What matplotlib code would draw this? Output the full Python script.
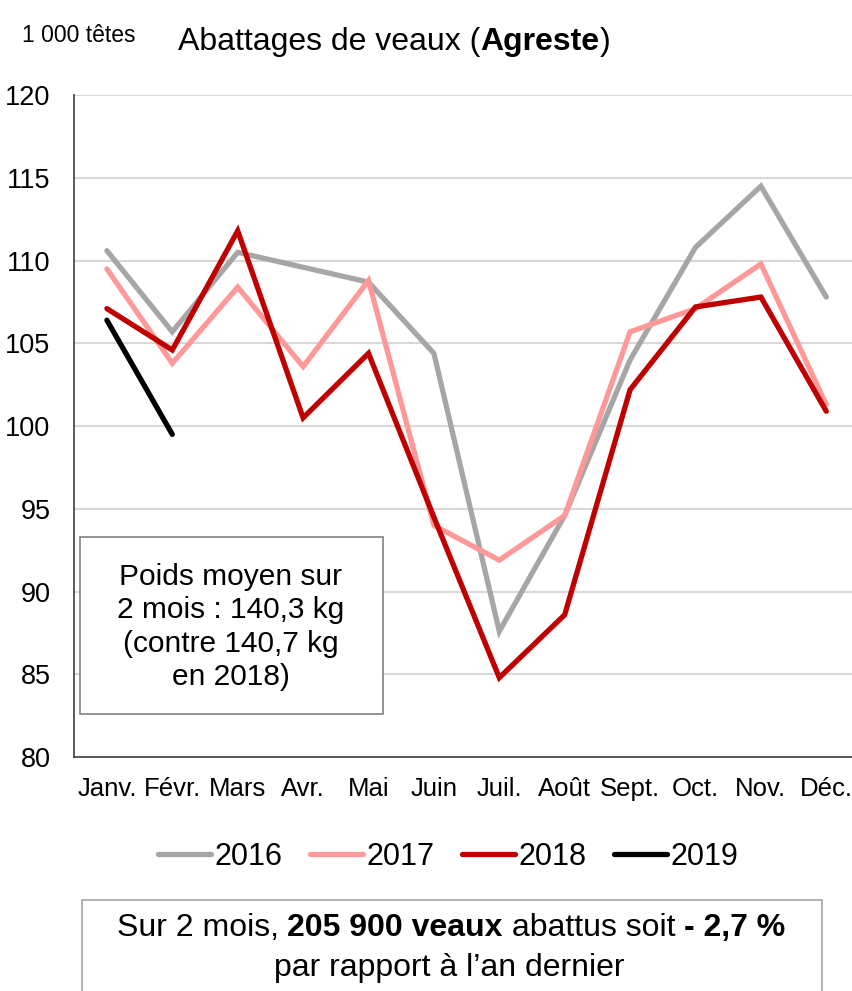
import matplotlib.pyplot as plt
import numpy as np

plt.rcParams['font.family'] = ['Liberation Sans', 'DejaVu Sans']

mois = ['Janv.', 'Févr.', 'Mars', 'Avr.', 'Mai', 'Juin', 'Juil.', 'Août',
        'Sept.', 'Oct.', 'Nov.', 'Déc.']
v2016 = [110.6, 105.7, 110.5, 109.6, 108.7, 104.4, 87.6, 94.6, 104.0, 110.8, 114.5, 107.8]
v2017 = [109.5, 103.8, 108.4, 103.6, 108.8, 94.0, 91.9, 94.6, 105.7, 107.1, 109.8, 101.3]
v2018 = [107.1, 104.6, 111.8, 100.5, 104.4, 94.5, 84.8, 88.6, 102.2, 107.2, 107.8, 100.9]
v2019 = [106.4, 99.5]

series = [('2016', v2016, '#a6a6a6'), ('2017', v2017, '#ff9999'),
          ('2018', v2018, '#c00000'), ('2019', v2019, '#000000')]

fig = plt.figure(figsize=(8.53, 9.91), dpi=100)
ax = fig.add_axes([0.087, 0.236, 0.92, 0.668])

x = np.arange(len(mois))
for label, vals, col in series:
    ax.plot(x[:len(vals)], vals, color=col, lw=3.8, label=label,
            solid_joinstyle='miter', solid_capstyle='round')

ax.set_xlim(-0.5, 11.5)
ax.set_ylim(80, 120)
ax.set_yticks(range(80, 121, 5))
ax.set_xticks(x)
ax.set_xticklabels(mois)
ax.yaxis.grid(True, color='#d9d9d9', lw=1.5)
ax.set_axisbelow(True)
for s in ['top', 'right']:
    ax.spines[s].set_visible(False)
ax.spines['left'].set_color('#404040')
ax.spines['bottom'].set_color('#404040')
ax.spines['left'].set_linewidth(1.2)
ax.spines['bottom'].set_linewidth(1.2)
ax.tick_params(axis='y', length=0, pad=17, labelsize=19.5)
ax.tick_params(axis='x', length=0, pad=14, labelsize=18.5)


def inline(parts, x0, y, size, center=False):
    # écrit des morceaux de texte à la suite (normal / gras)
    widths = []
    for txt, w in parts:
        tt = fig.text(0, 0, txt, fontsize=size, fontweight=w, alpha=0)
        fig.canvas.draw()
        widths.append(tt.get_window_extent().width / fig.bbox.width)
        tt.remove()
    xs = x0 - sum(widths) / 2 if center else x0
    for (txt, w), wd in zip(parts, widths):
        fig.text(xs, y, txt, fontsize=size, fontweight=w, va='center', ha='left')
        xs += wd


fig.text(22 / 853, 1 - 35 / 991, '1 000 têtes', fontsize=16.5, va='center', ha='left')
inline([('Abattages de veaux (', 'normal'), ('Agreste', 'bold'), (')', 'normal')],
       178 / 853, 1 - 42 / 991, 23)

# encadré poids moyen
fig.patches.append(plt.Rectangle((80 / 853, 1 - 714 / 991), 303 / 853, 177 / 991,
                                 transform=fig.transFigure, fill=True, fc='white',
                                 ec='#808080', lw=1.2, zorder=0.5))
fig.text(231 / 853, 1 - 627 / 991,
         'Poids moyen sur\n2 mois : 140,3 kg\n(contre 140,7 kg\nen 2018)',
         ha='center', va='center', fontsize=21.5, linespacing=1.25, zorder=2)

fig.legend(loc='center', bbox_to_anchor=(0.525, 1 - 857 / 991), ncol=4, frameon=False,
           fontsize=22, handlelength=1.75, handletextpad=0.1, columnspacing=0.9)

# encadré du bas
fig.patches.append(plt.Rectangle((82 / 853, -0.01), 740 / 853, 0.01 + 91 / 991,
                                 transform=fig.transFigure, fill=False,
                                 ec='#a6a6a6', lw=1.2))
inline([('Sur 2 mois, ', 'normal'), ('205 900 veaux', 'bold'),
        (' abattus soit ', 'normal'), ('- 2,7 %', 'bold')],
       451 / 853, 1 - 928 / 991, 23, center=True)
fig.text(449 / 853, 1 - 968 / 991, 'par rapport à l\u2019an dernier', fontsize=23,
         va='center', ha='center')

fig.savefig('out.png', dpi=100)
